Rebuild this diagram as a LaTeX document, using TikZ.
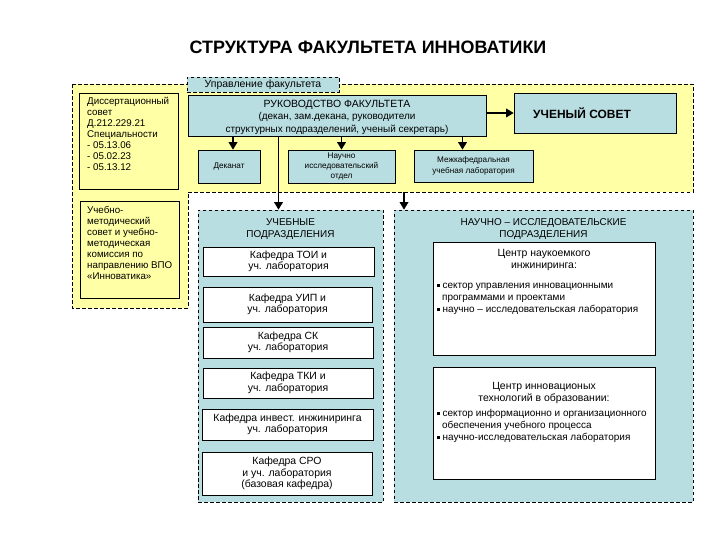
\documentclass[tikz,border=0pt]{standalone}
\usepackage{fontspec}
\setmainfont{Liberation Sans}
\usetikzlibrary{arrows.meta}
\definecolor{cyel}{RGB}{255,255,165}
\definecolor{cblue}{RGB}{185,222,225}
\newcommand{\fT}{\fontsize{18}{20}\selectfont\bfseries}
\newcommand{\fA}{\fontsize{10.5}{11.5}\selectfont}
\newcommand{\fR}{\fontsize{10.5}{12.5}\selectfont}
\newcommand{\fB}{\fontsize{10}{12.5}\selectfont}
\newcommand{\fL}{\fontsize{9.8}{11.1}\selectfont}
\newcommand{\fC}{\fontsize{10}{12}\selectfont}
\newcommand{\fS}{\fontsize{8.2}{10.5}\selectfont}
\newcommand{\blt}{\rule[1.8bp]{2.6bp}{2.6bp}}
\begin{document}
\begin{tikzpicture}[x=1bp,y=-1bp,
  box/.style={draw, line width=0.6pt, inner sep=0pt, align=center},
  bluebox/.style={box, fill=cblue},
  whitebox/.style={box, fill=white},
  dashline/.style={draw, line width=0.6pt, dash pattern=on 3.5bp off 2.5bp},
  dashbox/.style={dashline, fill=cblue, inner sep=0pt},
  arr/.style={line width=1.7pt, -{Triangle[width=8.5bp,length=7.5bp]}},
  txt/.style={inner sep=0pt, align=center}]
\useasboundingbox (0,0) rectangle (720,540);

% title
\node[txt, font=\fT] (title) at (368,47) {СТРУКТУРА ФАКУЛЬТЕТА ИННОВАТИКИ};

% yellow management area
\path[dashline, fill=cyel] (72,84) -- (693,84) -- (693,192) -- (188,192) -- (188,308) -- (72,308) -- cycle;
\coordinate (ybot) at (404,192);
\node[dashbox, minimum width=152bp, minimum height=15bp, font=\fA] (lab) at (263,84.5) {Управление факультета};

% left boxes
\node[box, minimum width=99bp, minimum height=96bp] (diss) at (128.5,141) {};
\node[anchor=north west, inner sep=0pt, align=left, font=\fL] (disst) at (87,97)
  {Диссертационный\\совет\\Д.212.229.21\\Специальности\\- 05.13.06\\- 05.02.23\\- 05.13.12};
\node[box, minimum width=99bp, minimum height=97bp] (umk) at (129.5,249.5) {};
\node[anchor=north west, inner sep=0pt, align=left, font=\fL] (umkt) at (87,206)
  {Учебно-\\методический\\совет и учебно-\\методическая\\комиссия по\\направлению ВПО\\«Инноватика»};

% management
\node[bluebox, minimum width=298bp, minimum height=41bp] (ruk) at (337,115.5) {};
\node[txt, font=\fB, align=center] (rukt) at (337,117)
  {{\fR РУКОВОДСТВО ФАКУЛЬТЕТА}\\(декан, зам.декана, руководители\\структурных подразделений, ученый секретарь)};
\node[bluebox, minimum width=162bp, minimum height=40bp, font=\fontsize{12}{14}\selectfont\bfseries] (sov) at (595,113) {УЧЕНЫЙ СОВЕТ\hspace*{26bp}};
\node[bluebox, minimum width=62bp, minimum height=33bp, font=\fS] (dek) at (229,166.5) {Деканат};
\node[bluebox, minimum width=107bp, minimum height=33bp, font=\fS] (nio) at (341.5,166.5) {Научно\\исследовательский\\отдел};
\node[bluebox, minimum width=119bp, minimum height=32bp, font=\fS] (mezh) at (473.5,166) {Межкафедральная\\учебная лаборатория};

% containers
\node[dashbox, minimum width=185bp, minimum height=292bp] (ucheb) at (290.5,356) {};
\node[txt, font=\fC, anchor=north] (uchebt) at (290.5,218) {УЧЕБНЫЕ\\ПОДРАЗДЕЛЕНИЯ};
\node[dashbox, minimum width=299bp, minimum height=292bp] (ni) at (543.5,356) {};
\node[txt, font=\fC, anchor=north] (nit) at (543.5,218) {НАУЧНО – ИССЛЕДОВАТЕЛЬСКИЕ\\ПОДРАЗДЕЛЕНИЯ};

% departments
\node[whitebox, minimum width=171bp, minimum height=29bp, font=\fA] (toi) at (288.5,261.5) {Кафедра ТОИ и\\уч. лаборатория};
\node[whitebox, minimum width=169bp, minimum height=35bp, font=\fA] (uip) at (287.5,304.5) {Кафедра УИП и\\уч. лаборатория};
\node[whitebox, minimum width=170bp, minimum height=31bp, font=\fA] (sk) at (288,342.5) {Кафедра СК\\уч. лаборатория};
\node[whitebox, minimum width=170bp, minimum height=30bp, font=\fA] (tki) at (288,383) {Кафедра ТКИ и\\уч. лаборатория};
\node[whitebox, minimum width=171bp, minimum height=31bp, font=\fA] (inv) at (287.5,424.5) {Кафедра инвест. инжиниринга\\уч. лаборатория};
\node[whitebox, minimum width=170bp, minimum height=43bp, font=\fA] (sro) at (287,473.5) {Кафедра СРО\\и уч. лаборатория\\(базовая кафедра)};

% research centers
\node[whitebox, minimum width=222bp, minimum height=113bp] (c1) at (544,298.5) {};
\node[txt, font=\fontsize{10.5}{12}\selectfont, anchor=north] (c1t) at (544,249) {Центр наукоемкого\\инжиниринга:};
\node[anchor=north west, inner sep=0pt, align=left, font=\fC] (c1b) at (437,283)
  {\blt\ сектор управления инновационными\\\hspace*{5bp}программами и проектами\\\blt\ научно – исследовательская лаборатория};
\node[whitebox, minimum width=222bp, minimum height=112bp] (c2) at (544,423) {};
\node[txt, font=\fontsize{10.5}{12}\selectfont, anchor=north] (c2t) at (544,382) {Центр инновационых\\технологий в образовании:};
\node[anchor=north west, inner sep=0pt, align=left, font=\fC] (c2b) at (437,409)
  {\blt\ сектор информационно и организационного\\\hspace*{5bp}обеспечения учебного процесса\\\blt\ научно-исследовательская лаборатория};

% connectors
\draw[arr] (ruk.east |- sov.west) -- (sov.west);
\draw[arr] ([xshift=4bp]dek.north |- ruk.south) -- ([xshift=4bp]dek.north);
\draw[arr] (nio.north |- ruk.south) -- (nio.north);
\draw[arr] ([xshift=-11bp]mezh.north |- ruk.south) -- ([xshift=-11bp]mezh.north);
\draw[arr] ([xshift=-12bp]ucheb.north |- ruk.south) -- ([xshift=-12bp]ucheb.north);
\draw[arr] (ybot) -- (ybot |- ni.north);
\end{tikzpicture}
\end{document}
